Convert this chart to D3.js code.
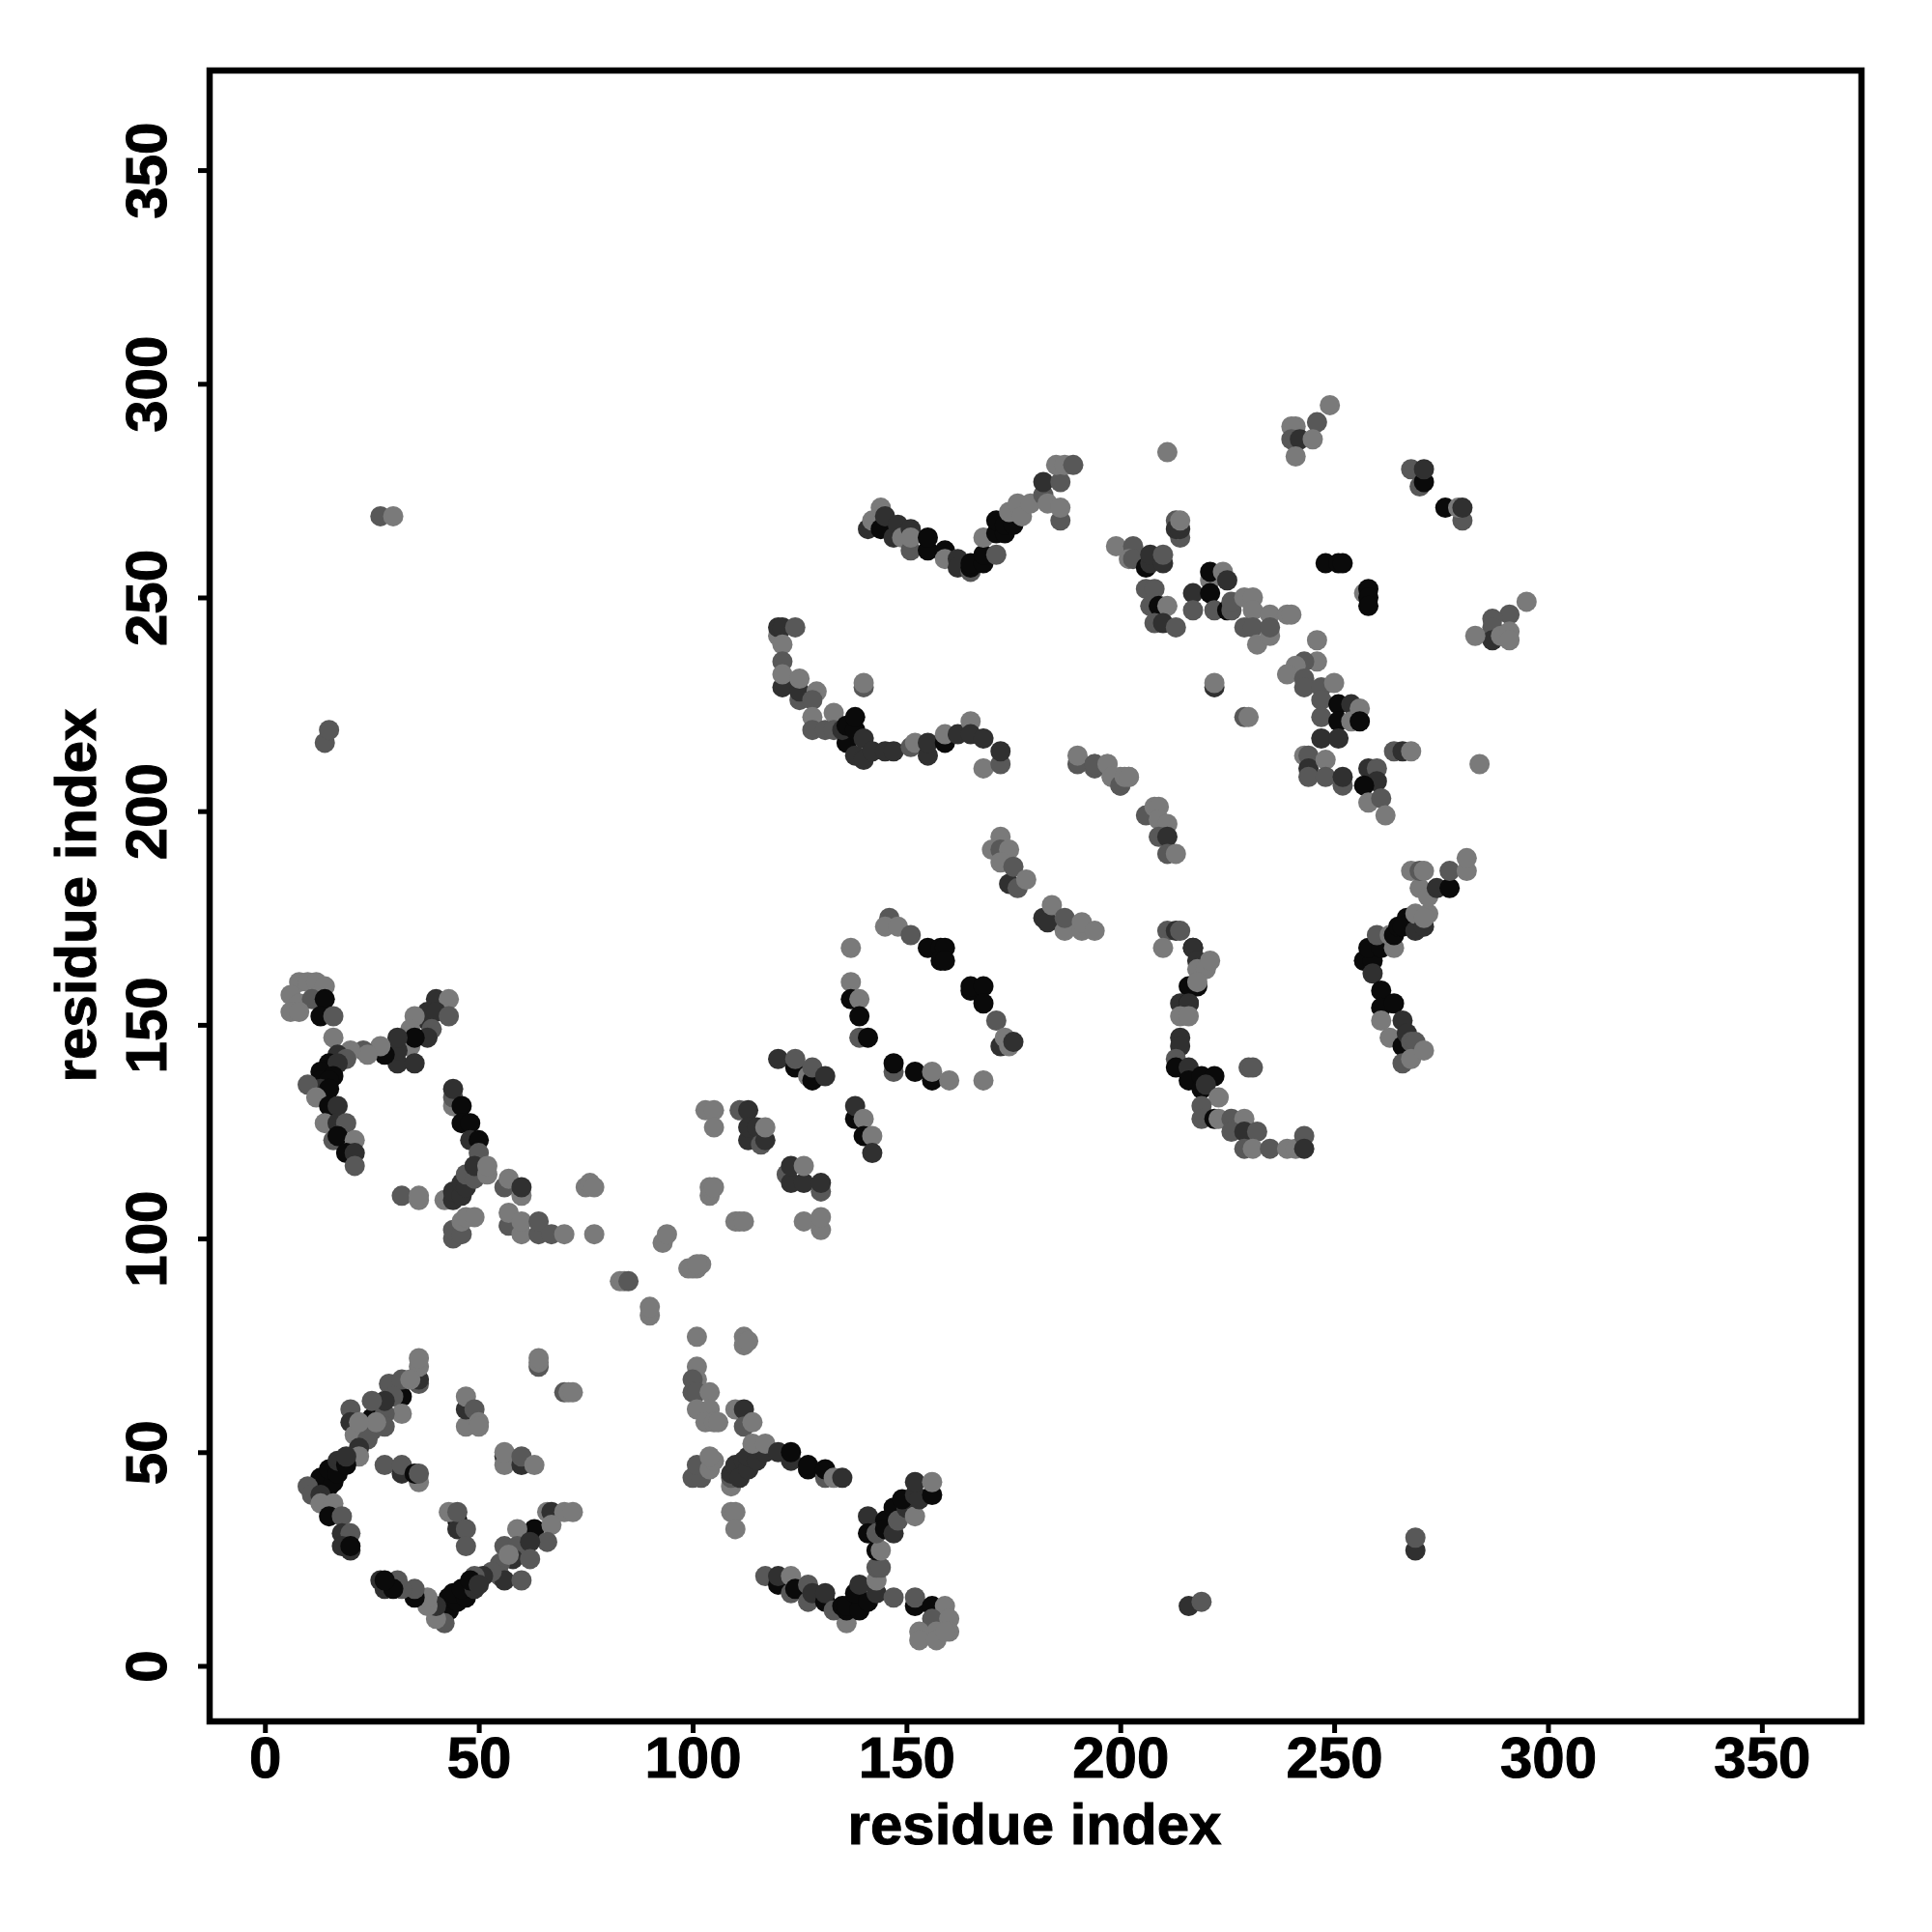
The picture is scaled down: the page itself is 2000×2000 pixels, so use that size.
<!DOCTYPE html>
<html><head><meta charset="utf-8">
<script src="https://cdn.jsdelivr.net/npm/d3@7/dist/d3.min.js"></script>
<style>html,body{margin:0;background:#fff}svg{display:block}</style></head>
<body><svg id="c" width="2000" height="2000"></svg>
<script>
const tickValues = [0,50,100,150,200,250,300,350];
const axisLabel = "residue index";
// shade levels
const K=10,D=48,M=88,L=122;
// [residue x, residue y, grey]
const lowerLeft = [
[36,66,M],[36,67,D],[36,70,L],[36,72,L],[32,63,K],[29,66,M],[32,67,M],[34,67,L],[30,63,M],[32,59,L],[20,60,M],[20,57,D],[25,58,K],[28,59,M],[28,56,M],[28,62,D],[25,62,M],[23,55,L],[25,55,M],[21,54,L],[24,53,M],[26,57,L],[22,57,L],[22,51,D],[22,49,L],
[13,42,K],[15,42,K],[13,44,K],[16,43,K],[15,46,K],[17,45,K],[17,48,D],[19,47,K],[19,49,D],[10,42,M],[11,40,M],[13,40,D],[13,38,L],[16,38,L],[15,35,K],[18,35,M],[18,31,D],[20,31,M],[18,28,D],[20,27,D],[20,28,K],
[28,47,M],[32,45,D],[32,47,M],[36,43,L],[35,45,K],[36,45,M],[47,56,L],[47,60,D],[47,63,L],[49,60,M],[50,57,L],[50,56,L],
[56,49,D],[56,47,L],[56,50,L],[60,47,D],[60,49,M],[63,47,L],[64,70,M],[64,71,L],[64,72,L],[70,64,M],[71,64,L],[72,64,L],
[45,34,K],[45,32,D],[43,36,L],[45,36,M],[47,32,M],[47,28,M],[66,36,L],[67,36,D],[70,36,L],[72,36,L],[63,32,K],[59,32,L],[67,33,L],[66,29,M],[56,28,M],[59,28,M],[62,29,D],[58,25,D],[62,25,M],[55,24,M],[57,26,L],[55,21,M],[56,20,D],[60,20,M],[53,22,M],[51,21,D],[49,21,M],
[43,13,K],[43,16,K],[45,15,K],[44,17,K],[47,16,K],[46,18,K],[49,18,D],[48,20,K],[50,19,D],[42,10,M],[40,11,L],[40,14,D],[38,14,L],[38,16,L],[35,16,K],[35,18,M],[32,18,M],[31,20,M],[28,18,D],[30,18,K],[27,20,D],[28,20,K]
];
const lowerMiddle = [
[100,93,L],[101,93,L],[102,94,L],[90,82,L],[90,84,L],[101,77,L],[112,75,L],[112,77,L],[113,76,L],[101,70,L],[101,67,L],[100,67,M],[100,64,M],[101,64,M],[104,64,L],[101,60,L],[104,60,L],[103,57,L],[105,57,L],[106,57,L],
[110,60,L],[112,60,D],[112,56,M],[114,57,L],[109,42,L],[109,44,M],[109,45,D],[110,47,D],[111,44,D],[112,48,D],[113,46,D],[113,49,D],[115,48,D],[117,50,D],[114,52,L],[117,52,L],
[100,44,M],[102,44,M],[101,47,M],[104,46,L],[105,48,L],[104,49,L],[120,50,D],[123,48,D],[123,50,K],[127,46,K],[127,47,K],[131,44,M],[131,46,K],[133,44,L],[135,44,D],[109,36,L],[110,36,L],[110,32,L],
[117,21,M],[120,19,K],[120,21,D],[123,17,M],[123,21,L],[124,18,K],[127,15,M],[127,19,M],[128,17,D],[131,15,K],[131,17,D],[136,10,L],[133,13,M],[135,14,K],[136,13,K],[136,14,K],[139,13,K],[138,17,K],[141,15,K],[139,19,D],[143,17,D],[143,20,L],[143,23,M],[144,23,M],[143,27,K],[144,27,L],
[141,35,D],[141,31,K],[143,31,M],[145,34,K],[145,32,K],[147,31,D],[147,37,K],[148,34,M],[150,37,D],[149,39,K],[152,35,L],[152,40,D],[153,39,D],[156,40,K],[152,43,D],[156,43,L],
[147,16,M],[152,14,K],[152,16,M],[156,14,K],[159,14,L],[156,11,M],[160,11,L],[160,8,L],[153,8,L],[153,6,L],[157,8,L],[157,6,L],[159,8,L]
];
const leftMiddle = [
[8,160,L],[10,160,L],[12,160,L],[14,159,L],[6,157,L],[8,155,L],[11,156,M],[14,156,K],[6,153,L],[8,153,L],[13,152,K],[16,152,M],[16,147,L],
[40,156,D],[43,156,L],[38,151,D],[38,153,D],[40,153,D],[43,152,M],[35,152,L],[34,149,L],[39,149,M],[38,147,D],[34,145,L],[35,147,K],[31,141,D],[31,144,D],[31,147,D],[35,141,D],[28,143,K],[27,145,L],[23,144,M],[24,143,L],[20,144,L],
[17,143,D],[19,142,M],[15,141,K],[17,141,D],[13,139,K],[16,138,K],[13,137,K],[15,137,K],[13,135,D],[15,135,K],[10,136,M],[12,133,L],[15,131,K],[17,131,D],[14,127,L],[17,127,D],[19,127,M],[16,123,M],[17,124,K],[21,123,L],[19,120,K],[21,120,D],[21,117,M],
[44,131,L],[44,133,M],[44,135,D],[46,131,K],[46,127,K],[48,127,K],[48,123,D],[50,123,K],[50,120,M],[42,109,L],[44,109,D],[44,111,D],[46,110,D],[46,113,D],[47,112,D],[47,115,M],[49,114,M],[49,117,D],[52,115,L],[52,117,L],
[56,112,M],[57,114,L],[60,110,L],[60,112,D],[32,110,M],[36,109,L],[36,110,L],[75,112,L],[76,113,L],[77,112,L],
[44,100,M],[44,102,M],[46,101,M],[46,104,L],[47,105,L],[49,105,L],[57,103,M],[57,106,L],[60,101,L],[60,104,L],[64,101,M],[64,104,M],[67,101,M],[70,101,L],[77,101,L]
];
const middleUpper = [
[146,175,M],[145,173,L],[148,173,L],[151,171,M],[155,168,K],[158,168,K],[159,168,K],[158,165,K],[159,165,K],[165,158,K],[165,159,K],[168,159,K],[168,155,K],[171,151,M],[172,145,D],[174,145,L],[173,147,L],[175,146,D],
[137,168,L],[137,160,L],[137,156,K],[139,156,L],[139,152,K],[139,147,M],[141,147,K],[147,139,M],[147,141,K],[152,139,K],[156,137,K],[156,139,L],[160,137,L],[168,137,L],
[120,142,D],[124,140,K],[124,142,M],[127,138,L],[128,137,K],[128,140,M],[131,138,D],[138,128,K],[138,131,D],[140,128,L],[140,124,K],[142,124,L],[142,120,D],
[103,130,L],[105,130,L],[105,126,L],[111,130,M],[113,130,D],[113,123,D],[113,126,D],[115,126,D],[116,122,M],[117,123,D],[117,126,L],
[104,110,L],[104,112,L],[105,112,L],[110,104,L],[111,104,L],[112,104,L],[126,104,L],[130,102,L],[130,105,L],[122,115,M],[123,113,D],[123,117,D],[126,113,D],[126,117,L],[130,111,M],[130,113,D],
[93,99,L],[94,101,L],[99,93,L],[101,94,L],[83,90,L],[84,90,L],[85,90,M],[27,269,M],[30,269,L],[14,216,M],[15,219,M],[216,14,D],[219,15,M],[269,27,D],[269,30,M]
];
const upperArcs = [
[141,266,D],[142,268,L],[144,271,L],[144,266,K],[145,269,D],[147,264,D],[148,267,D],[149,264,L],[151,261,M],[151,266,D],[151,264,L],[155,261,K],[155,264,K],[159,261,K],[159,259,L],[162,259,D],[162,257,D],[165,256,M],[165,257,K],[165,258,K],[168,258,K],[168,260,K],[168,264,L],
[171,260,M],[171,265,K],[171,268,K],[173,265,K],[173,267,K],[175,267,K],[174,270,L],[176,272,L],[177,269,L],[179,272,L],[182,274,M],[182,277,D],[183,272,L],[186,277,M],[186,268,M],[186,271,L],[185,281,L],[187,281,L],[189,281,M],
[120,241,L],[120,243,D],[121,243,D],[124,243,M],[121,239,L],[121,235,M],[121,229,D],[121,232,L],[125,226,M],[125,228,D],[125,231,L],[129,228,L],[128,226,M],[128,222,L],[128,219,M],[131,219,M],[133,223,L],[133,219,M],
[136,216,K],[135,219,D],[136,220,K],[138,219,K],[138,222,K],[138,213,D],[140,212,D],[140,217,D],[142,214,D],[145,214,D],[147,214,D],[151,215,M],[152,216,L],[155,213,D],[155,216,D],[159,216,K],[159,218,L],[162,218,D],[165,221,L],[165,218,D],[168,217,D],[168,210,L],[172,211,M],[172,214,D],[140,229,M],[140,230,L],
[190,211,M],[190,213,L],[194,210,M],[194,211,M],[197,211,L],[198,208,L],[200,206,L],[200,208,L],[202,208,L]
];
const upperRight = [
[249,295,L],[241,290,L],[240,290,L],[246,291,M],[240,287,M],[242,287,D],[245,287,L],[241,283,L],[211,284,L],
[268,280,M],[270,276,M],[271,277,K],[271,280,D],[276,271,K],[280,268,M],[279,271,L],[280,271,D],
[213,268,M],[214,264,M],[213,266,D],[214,266,D],[214,268,L],[199,262,L],[203,262,M],[202,259,L],[203,259,M],[206,257,K],[207,258,D],[207,260,D],[210,258,D],[210,260,M],
[221,254,L],[221,256,K],[224,256,L],[225,254,D],[217,251,D],[221,251,K],[217,247,M],[222,247,M],[225,247,K],[226,247,M],[226,249,M],[229,250,L],[231,250,L],[231,247,L],[235,246,L],[239,246,L],[240,246,L],[229,243,M],[231,243,M],[232,239,L],[235,241,L],[235,243,M],
[206,252,M],[208,252,M],[207,248,M],[209,248,K],[211,248,L],[208,244,M],[210,244,D],[213,243,M],[248,258,K],[251,258,K],[252,258,K],[257,251,L],[258,252,K],[258,250,K],[258,248,K],
[295,249,L],[291,246,M],[287,245,M],[287,243,M],[287,240,D],[283,241,L],[289,241,L],[291,242,L],[291,240,L],
[246,240,L],[246,235,L],[243,235,M],[241,234,L],[239,232,L],[243,231,M],[243,229,M],[247,229,M],[250,230,L],[247,226,M],[247,222,M],[251,225,K],[254,225,D],[256,224,L],[251,221,K],[254,221,L],[256,221,K],[247,217,D],[251,217,D],
[222,229,D],[222,230,L],[229,222,M],[230,222,L],[264,214,M],[266,214,D],[268,214,L],[284,211,L],
[243,213,L],[244,213,M],[244,210,D],[244,208,M],[248,212,L],[248,208,M],[252,206,M],[252,208,D],[258,210,D],[260,210,M],[260,207,D],[257,206,K],[258,202,L],[261,203,M],[262,199,L],
[194,211,M],[197,211,L],[198,208,L],[200,206,M],[201,208,L],[202,208,L],[206,199,M],[208,201,L],[209,201,L],[209,198,L],[211,197,L],[209,194,M],[211,194,D],[211,190,M],[213,190,L]
];
const rightArcs = [
[211,172,M],[213,172,D],[214,172,M],[210,168,L],[217,168,K],[217,168,D],[218,165,D],[218,163,L],[220,163,L],[221,165,L],[216,159,K],[218,159,K],[218,160,L],[214,155,D],[216,155,K],[216,155,D],[214,152,L],[216,152,L],
[214,147,D],[214,145,D],[213,142,M],[213,140,K],[216,140,D],[216,137,K],[219,138,K],[222,138,K],[219,135,K],[220,136,D],[223,133,L],[219,131,M],[219,128,M],[222,128,K],[223,128,L],[226,128,M],[229,128,L],[226,125,M],[229,125,D],[232,125,M],[229,121,M],[231,121,L],[235,121,M],[239,121,L],[241,121,L],[243,124,M],[243,121,D],[230,140,M],[231,140,M],
[257,165,M],[257,165,K],[259,165,K],[259,162,D],[258,168,K],[261,168,K],[264,168,L],[260,171,M],[263,171,L],[261,158,K],[261,154,K],[264,155,K],[261,151,L],[263,147,L],[266,151,D],[266,145,K],[267,148,D],[268,146,M],[269,146,M],[266,141,M],[268,142,L],[271,144,L],
[264,171,K],[265,173,K],[267,175,K],[268,173,D],[266,173,K],[269,172,D],[269,176,L],[271,173,D],[272,176,L],[271,175,L],[270,182,L],[272,180,L],[268,186,L],[270,186,M],[271,186,L],[274,182,D],[277,182,K],[277,186,M],[281,186,L],[281,189,L]
];
const middleBands = [
[172,194,L],[170,191,L],[172,191,M],[174,191,L],[172,188,L],[174,183,D],[175,187,M],[176,182,M],[178,184,L],
[182,175,D],[183,174,D],[184,178,L],[187,172,L],[187,175,M],[191,172,L],[191,174,L],[194,172,L]
];

const groups = [lowerLeft,lowerMiddle,leftMiddle,middleUpper,upperArcs,upperRight,rightArcs,middleBands];

const svg = d3.select("#c");
const x = d3.scaleLinear().domain([-12.93,373.3]).range([217,1927]);
const y = d3.scaleLinear().domain([-13,373.3]).range([1782,73]);
const font = "'Liberation Sans', Arial, sans-serif";

const pts = svg.append("g");
groups.forEach(g=>{
  pts.selectAll(null).data(g).enter().append("circle")
    .attr("cx",d=>x(d[0])).attr("cy",d=>y(d[1])).attr("r",10.5)
    .attr("fill",d=>d3.rgb(d[2],d[2],d[2]));
});

svg.append("rect").attr("x",217).attr("y",73).attr("width",1710).attr("height",1709)
  .attr("fill","none").attr("stroke","#000").attr("stroke-width",6.5);

const ax = svg.append("g").attr("transform","translate(0,1782)")
  .call(d3.axisBottom(x).tickValues(tickValues).tickSize(12).tickFormat(d3.format("d")));
const ay = svg.append("g").attr("transform","translate(217,0)")
  .call(d3.axisLeft(y).tickValues(tickValues).tickSize(12).tickFormat(d3.format("d")));
[ax,ay].forEach(a=>{
  a.select(".domain").remove();
  a.selectAll("line").attr("stroke","#000").attr("stroke-width",5);
  a.selectAll("text").attr("fill","#000").attr("stroke","#000").attr("stroke-width",1)
    .attr("font-family",font).attr("font-weight","700").attr("font-size",60);
});
ax.selectAll("text").attr("y",58).attr("dy",0);
ay.selectAll("text").attr("x",0).attr("dy",0).attr("text-anchor","middle")
  .attr("transform","translate(-45,0) rotate(-90)");

svg.append("text").attr("x",1071).attr("y",1909).attr("text-anchor","middle")
  .attr("font-family",font).attr("font-weight","700").attr("font-size",60).attr("fill","#000").attr("stroke","#000").attr("stroke-width",1).text(axisLabel);
svg.append("text").attr("transform","translate(99,927) rotate(-90)").attr("text-anchor","middle")
  .attr("font-family",font).attr("font-weight","700").attr("font-size",60).attr("fill","#000").attr("stroke","#000").attr("stroke-width",1).text(axisLabel);
</script></body></html>
